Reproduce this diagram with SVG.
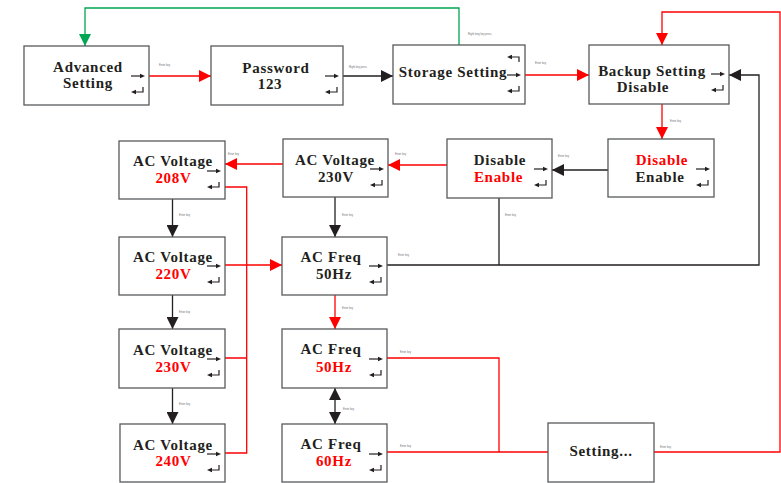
<svg xmlns="http://www.w3.org/2000/svg" xmlns:xlink="http://www.w3.org/1999/xlink" width="781" height="483" viewBox="0 0 781 483">
<style>
.box{fill:#fff;stroke:#58595b;stroke-width:1.3}
.t{font-family:"Liberation Serif","Times New Roman",serif;font-weight:bold;font-size:15px;fill:#231f20;letter-spacing:0.7px;text-anchor:middle}
.r{fill:#ff0000}
.lab{font-family:"Liberation Sans",Arial,sans-serif;font-size:2.6px;fill:#6d6e71}
.ck{fill:none;stroke:#231f20;stroke-width:1.3}
.cr{fill:none;stroke:#ff0000;stroke-width:1.3}
.cg{fill:none;stroke:#00a651;stroke-width:1.3}
.ic{fill:none;stroke:#231f20;stroke-width:1.2}
</style>
<defs>
<marker id="ak" viewBox="0 0 12 12" refX="12" refY="6" markerWidth="12" markerHeight="12" markerUnits="userSpaceOnUse" orient="auto-start-reverse"><path d="M0,0 L12,6 L0,12 z" fill="#231f20"/></marker>
<marker id="ar" viewBox="0 0 12 12" refX="12" refY="6" markerWidth="12" markerHeight="12" markerUnits="userSpaceOnUse" orient="auto"><path d="M0,0 L12,6 L0,12 z" fill="#ff0000"/></marker>
<marker id="ag" viewBox="0 0 12 12" refX="12" refY="6" markerWidth="12" markerHeight="12" markerUnits="userSpaceOnUse" orient="auto"><path d="M0,0 L12,6 L0,12 z" fill="#00a651"/></marker>
<g id="ic">
<path class="ic" d="M-18,30 H-8"/><path d="M-9,27.8 L-4,30 L-9,32.2 z" fill="#231f20"/>
<path class="ic" d="M-6,41 V46 H-14"/><path d="M-13,43.8 L-18,46 L-13,48.2 z" fill="#231f20"/>
</g>
<g id="icu">
<path class="ic" d="M-6,16 V11 H-14"/><path d="M-13,8.8 L-18,11 L-13,13.2 z" fill="#231f20"/>
</g>
</defs>

<g id="connectors">
<path class="cr" d="M149,76 H211" marker-end="url(#ar)"/>
<path class="ck" d="M343,76 H393" marker-end="url(#ak)"/>
<path class="cr" d="M525,75 H589" marker-end="url(#ar)"/>
<path class="cg" d="M459,45 V8 H85 V46" marker-end="url(#ag)"/>
<path class="cr" d="M654,452 H780 V12 H662 V45" marker-end="url(#ar)"/>
<path class="cr" d="M662,104 V139" marker-end="url(#ar)"/>
<path class="ck" d="M608,170 H552" marker-end="url(#ak)"/>
<path class="cr" d="M447,165 H388" marker-end="url(#ar)"/>
<path class="cr" d="M283,164 H225" marker-end="url(#ar)"/>
<path class="ck" d="M172.5,199 V237" marker-end="url(#ak)"/>
<path class="ck" d="M335,197 V237" marker-end="url(#ak)"/>
<path class="ck" d="M387,265 H759 V75 H729" marker-end="url(#ak)"/>
<path class="ck" d="M499,198 V265"/>
<path class="cr" d="M225,265 H282" marker-end="url(#ar)"/>
<path class="cr" d="M335,295 V329" marker-end="url(#ar)"/>
<path class="ck" d="M172.5,295 V329" marker-end="url(#ak)"/>
<path class="ck" d="M172.5,388 V424" marker-end="url(#ak)"/>
<path class="cr" d="M225,187 H246.7 V453 H225 M225,358 H246.7"/>
<path class="ck" d="M335,388 V424" marker-start="url(#ak)" marker-end="url(#ak)"/>
<path class="cr" d="M387,358 H499 V452 M387,452 H548"/>
<text class="lab" x="159" y="66">Enter key</text>
<text class="lab" x="349" y="68">Right key press</text>
<text class="lab" x="468" y="35">Right long key press</text>
<text class="lab" x="535" y="64">Enter key</text>
<text class="lab" x="670" y="122">Enter key</text>
<text class="lab" x="558" y="157">Enter key</text>
<text class="lab" x="395" y="155">Enter key</text>
<text class="lab" x="228" y="155">Enter key</text>
<text class="lab" x="179" y="216">Enter key</text>
<text class="lab" x="342" y="216">Enter key</text>
<text class="lab" x="505" y="216">Enter key</text>
<text class="lab" x="398" y="256">Enter key</text>
<text class="lab" x="179" y="313">Enter key</text>
<text class="lab" x="342" y="309">Enter key</text>
<text class="lab" x="400" y="353">Enter key</text>
<text class="lab" x="179" y="405">Enter key</text>
<text class="lab" x="343" y="410">Enter key</text>
<text class="lab" x="400" y="447">Enter key</text>
<text class="lab" x="660" y="448">Enter key</text>
</g>

<g id="advanced"><rect class="box" x="24" y="46" width="125" height="59"/><text class="t" x="88" y="72">Advanced</text><text class="t" x="88" y="88">Setting</text><use xlink:href="#ic" x="149" y="46"/></g>
<g id="password"><rect class="box" x="211" y="46" width="132" height="59"/><text class="t" x="276" y="73">Password</text><text class="t" x="270" y="89">123</text><use xlink:href="#ic" x="343" y="46"/></g>
<g id="storage"><rect class="box" x="393" y="45" width="132" height="59"/><text class="t" x="453" y="77">Storage Setting</text><use xlink:href="#icu" x="525" y="46"/><use xlink:href="#ic" x="525" y="45"/></g>
<g id="backup"><rect class="box" x="589" y="45" width="140" height="59"/><text class="t" x="652" y="76">Backup Setting</text><text class="t" x="643" y="92">Disable</text><use xlink:href="#ic" x="729" y="44"/></g>
<g id="de2"><rect class="box" x="608" y="139" width="106" height="58"/><text class="t r" x="662" y="165">Disable</text><text class="t" x="660" y="182">Enable</text><use xlink:href="#ic" x="714" y="139"/></g>
<g id="de1"><rect class="box" x="447" y="139" width="105" height="59"/><text class="t" x="500" y="165">Disable</text><text class="t r" x="498.5" y="182">Enable</text><use xlink:href="#ic" x="552" y="139"/></g>
<g id="v230a"><rect class="box" x="283" y="139" width="105" height="58"/><text class="t" x="335" y="165">AC Voltage</text><text class="t" x="336" y="182">230V</text><use xlink:href="#ic" x="388" y="139"/></g>
<g id="v208"><rect class="box" x="119" y="141" width="106" height="58"/><text class="t" x="173" y="166">AC Voltage</text><text class="t r" x="173.5" y="183">208V</text><use xlink:href="#ic" x="225" y="141"/></g>
<g id="v220"><rect class="box" x="119" y="237" width="106" height="58"/><text class="t" x="173" y="262">AC Voltage</text><text class="t r" x="173.5" y="279">220V</text><use xlink:href="#ic" x="225" y="236"/></g>
<g id="f50a"><rect class="box" x="282" y="237" width="105" height="58"/><text class="t" x="331" y="262">AC Freq</text><text class="t" x="334" y="279">50Hz</text><use xlink:href="#ic" x="387" y="236"/></g>
<g id="v230b"><rect class="box" x="119" y="329" width="106" height="59"/><text class="t" x="173" y="355">AC Voltage</text><text class="t r" x="173.5" y="372">230V</text><use xlink:href="#ic" x="225" y="329"/></g>
<g id="f50b"><rect class="box" x="282" y="329" width="105" height="59"/><text class="t" x="331" y="354">AC Freq</text><text class="t r" x="334" y="372">50Hz</text><use xlink:href="#ic" x="387" y="329"/></g>
<g id="v240"><rect class="box" x="120" y="424" width="105" height="58"/><text class="t" x="173" y="450">AC Voltage</text><text class="t r" x="173.5" y="466">240V</text><use xlink:href="#ic" x="225" y="424"/></g>
<g id="f60"><rect class="box" x="282" y="424" width="105" height="58"/><text class="t" x="331" y="449">AC Freq</text><text class="t r" x="334" y="466">60Hz</text><use xlink:href="#ic" x="387" y="424"/></g>
<g id="setting"><rect class="box" x="548" y="423" width="106" height="59"/><text class="t" x="601" y="456">Setting...</text></g>
</svg>
